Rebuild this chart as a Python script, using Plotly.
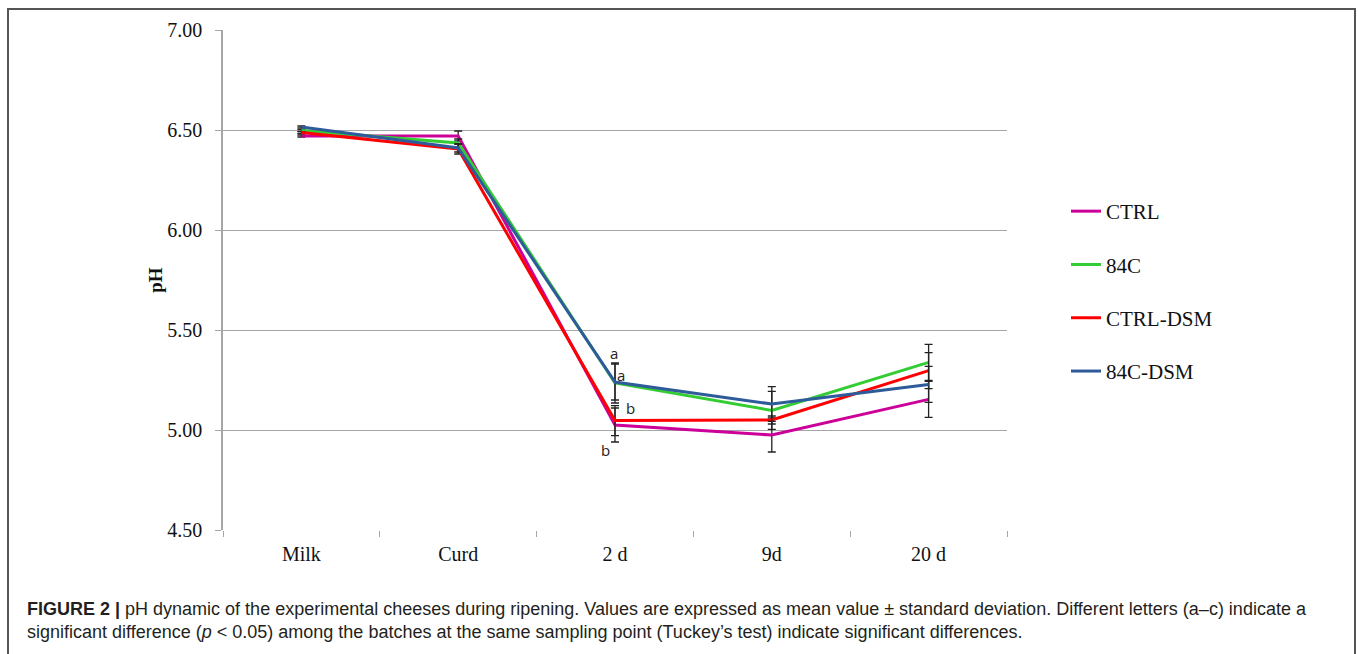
import plotly.graph_objects as go

# Sampling points and pH means / standard deviations per batch
stages = ["Milk", "Curd", "2 d", "9d", "20 d"]

ctrl_ph = [6.47, 6.47, 5.025, 4.975, 5.153]
ctrl_sd = [0.005, 0.025, 0.085, 0.085, 0.09]

c84_ph = [6.497, 6.435, 5.235, 5.098, 5.338]
c84_sd = [0.005, 0.02, 0.10, 0.095, 0.09]

ctrl_dsm_ph = [6.487, 6.405, 5.047, 5.05, 5.297]
ctrl_dsm_sd = [0.005, 0.025, 0.075, 0.02, 0.09]

c84_dsm_ph = [6.515, 6.41, 5.24, 5.13, 5.228]
c84_dsm_sd = [0.005, 0.02, 0.09, 0.087, 0.09]

series = [
    ("CTRL", ctrl_ph, ctrl_sd, "#CC0099"),
    ("84C", c84_ph, c84_sd, "#33CC33"),
    ("CTRL-DSM", ctrl_dsm_ph, ctrl_dsm_sd, "#FF0000"),
    ("84C-DSM", c84_dsm_ph, c84_dsm_sd, "#2E5B9A"),
]

# Significance letters at the 2 d sampling point: (text, pH position, x shift px)
letters = [("a", 5.385, -1), ("a", 5.275, 6), ("b", 5.11, 15), ("b", 4.90, -10)]

serif = "Liberation Serif"
fig = go.Figure()
for name, ph, sd, color in series:
    fig.add_trace(go.Scatter(
        x=stages, y=ph, name=name, mode="lines",
        line=dict(color=color, width=3),
        error_y=dict(type="data", array=sd, visible=True,
                     color="#222222", thickness=1.3, width=4),
        legendgroup=name,
    ))

for txt, yv, xs in letters:
    fig.add_annotation(x="2 d", y=yv, text=txt, showarrow=False, xshift=xs,
                       font=dict(family="Open Sans", size=15, color="#222222"))

caption = ("<b>FIGURE 2 |</b> pH dynamic of the experimental cheeses during ripening. "
           "Values are expressed as mean value ± standard deviation. Different letters (a–c) indicate a<br>"
           "significant difference (<i>p</i> &lt; 0.05) among the batches at the same sampling point "
           "(Tuckey’s test) indicate significant differences.")
fig.add_annotation(xref="paper", yref="paper", x=(25 - 223) / 784, y=(530 - 597) / 500,
                   xanchor="left", yanchor="top", align="left", showarrow=False,
                   text=caption,
                   font=dict(family="Liberation Sans", size=18, color="#231F20"))

# Outer frame around the figure panel
fig.add_shape(type="rect", xref="paper", yref="paper",
              x0=(8 - 223) / 784, x1=(1355 - 223) / 784,
              y0=(530 - 670) / 500, y1=(530 - 9) / 500,
              line=dict(color="#555555", width=2))

fig.update_layout(
    width=1358, height=654,
    margin=dict(l=223, r=351, t=30, b=124),
    plot_bgcolor="white", paper_bgcolor="white",
    showlegend=True,
    legend=dict(x=(1066 - 223) / 784, y=(530 - 191) / 500, xanchor="left", yanchor="top",
                font=dict(family=serif, size=21, color="#111111"),
                tracegroupgap=23, itemwidth=30,
                bgcolor="rgba(0,0,0,0)"),
    xaxis=dict(
        type="category", range=[-0.5, 4.5],
        showline=False, showgrid=False, zeroline=False,
        ticks="outside", tickson="boundaries", ticklen=6, tickcolor="#A6A6A6",
        tickfont=dict(family=serif, size=20, color="#111111"),
        ticklabelstandoff=10,
    ),
    yaxis=dict(
        range=[4.5, 7.0], dtick=0.5, tickformat=".2f",
        showline=True, linecolor="#A6A6A6", linewidth=1.5,
        showgrid=True, gridcolor="#A6A6A6", gridwidth=1, zeroline=False,
        ticks="outside", ticklen=6, tickcolor="#A6A6A6",
        tickfont=dict(family=serif, size=20, color="#111111"),
        ticklabelstandoff=9,
        title=dict(text="<b>pH</b>", font=dict(family=serif, size=19, color="#111111"),
                   standoff=0),
    ),
)

fig.write_html("out.html")
